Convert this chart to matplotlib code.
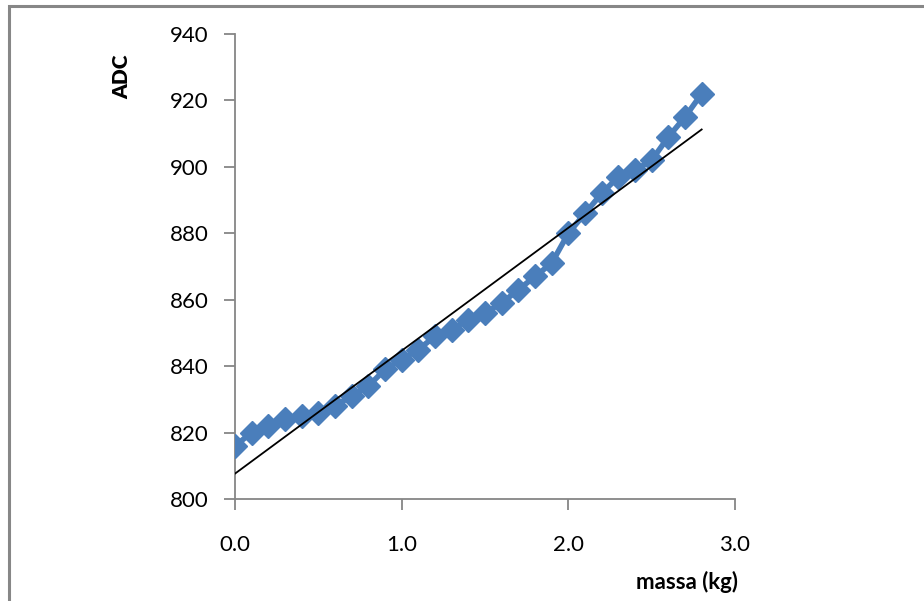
import numpy as np
import matplotlib
matplotlib.use("Agg")
import matplotlib.pyplot as plt
from matplotlib.patches import Rectangle

# --- data ---
massa = [0.0, 0.1, 0.2, 0.3, 0.4, 0.5, 0.6, 0.7, 0.8, 0.9,
         1.0, 1.1, 1.2, 1.3, 1.4, 1.5, 1.6, 1.7, 1.8, 1.9,
         2.0, 2.1, 2.2, 2.3, 2.4, 2.5, 2.6, 2.7, 2.8]
adc = [816, 820, 822, 824, 825, 826, 828, 831, 834, 839,
       842, 845, 849, 851, 854, 856, 859, 863, 867, 871,
       880, 886, 892, 897, 899, 902, 909, 915, 922]
x_ticks = [0.0, 1.0, 2.0, 3.0]
y_ticks = [800, 820, 840, 860, 880, 900, 920, 940]

plt.rcParams['font.family'] = ['Lato', 'DejaVu Sans']

fig = plt.figure(figsize=(9.24, 6.01), dpi=100)
ax = fig.add_axes([235 / 924, 1 - 499 / 601, 500 / 924, 465 / 601])

# outer chart frame (excel style)
fig.patches.append(Rectangle((9 / 924, -0.1), 1.2, (595 / 601) + 0.1,
                             transform=fig.transFigure, fill=False,
                             edgecolor="#878787", linewidth=2.2))

# data series
ax.plot(massa, adc, color="#4A7EBB", linewidth=4, marker="D",
        markersize=12, zorder=3)

# linear trendline
slope, intercept = np.polyfit(massa, adc, 1)
xs = np.array([massa[0], massa[-1]])
ax.plot(xs, slope * xs + intercept, color="black", linewidth=1.3, zorder=4)

ax.set_xlim(0, 3)
ax.set_ylim(800, 940)
ax.set_xticks(x_ticks)
ax.set_xticklabels([f"{v:.1f}" for v in x_ticks])
ax.set_yticks(y_ticks)

for side in ["top", "right"]:
    ax.spines[side].set_visible(False)
for side in ["left", "bottom"]:
    ax.spines[side].set_color("#868686")
    ax.spines[side].set_linewidth(1.3)
ax.spines["left"].set_bounds(800, 940)

ax.tick_params(axis="both", direction="out", length=8, width=1.3,
               color="#868686", labelsize=16)
ax.tick_params(axis="y", pad=11)
ax.tick_params(axis="x", pad=18)

fig.text(122 / 924, 1 - 77 / 601, "ADC", rotation=90, fontsize=15,
         fontweight="heavy", ha="center", va="center")
fig.text(687 / 924, 1 - 582 / 601, "massa (kg)", fontsize=16,
         fontweight="bold", ha="center", va="center")

fig.savefig("out.png", dpi=100)
